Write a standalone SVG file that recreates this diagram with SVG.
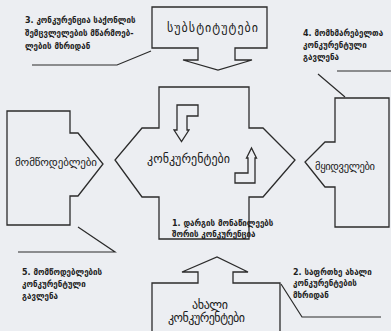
<svg xmlns="http://www.w3.org/2000/svg" width="391" height="331" viewBox="0 0 391 331">
<style>
.shape{fill:none;stroke:#2b2b2b;stroke-width:1.3;stroke-linejoin:miter}
.lead{fill:none;stroke:#2b2b2b;stroke-width:1.2}
.box{font-family:"DejaVu Sans",sans-serif;font-size:12px;fill:#1a1a1a;text-anchor:middle}
.note{font-family:"DejaVu Sans",sans-serif;font-size:8px;font-weight:bold;fill:#1e1e1e}
</style>
<rect width="391" height="331" fill="#eceef2"/>
<g id="connectors">
  <path class="lead" d="M32,65 H117 L151,51"/>
  <path class="lead" d="M391,71 H337 M318,74 L345,97"/>
  <path class="lead" d="M18,252 H115 L78,227"/>
  <path class="lead" d="M281,284 L302,317 H381"/>
</g>
<g id="substitutes">
  <path class="shape" d="M152,7 H267 V48 H235 V60 H252 L218,70 L183,60 H198 V48 H152 Z"/>
  <text class="box" x="212.5" y="32" textLength="91">სუბსტიტუტები</text>
</g>
<g id="competitors">
  <path class="shape" d="M159,87 H249 V128 H263 L295,160 L263,197 H249 V239 H159 V197 H142 L115,160 L142,128 H159 Z"/>
  <path class="shape" d="M177,105 H198 V116 H187 V130 H189 L181.5,141.5 L174,130 H177 Z"/>
  <path class="shape" d="M255,158 V183 H235 V173 H248 V158 H246.5 L251.5,148 L256.5,158 Z"/>
  <text class="box" x="188.5" y="163" textLength="83">კონკურენტები</text>
</g>
<g id="suppliers">
  <path class="shape" d="M7,111 H70 V133 H78 L103,164 L78,196 H70 V225 H7 Z"/>
  <text class="box" x="56" y="166" textLength="82" style="font-size:11px">მომწოდებლები</text>
</g>
<g id="buyers">
  <path class="shape" d="M389,98 H335 V142 H325 L305,162 L325,187 H335 V227 H389 Z"/>
  <text class="box" x="345" y="170" textLength="60" style="font-size:10.5px">მყიდველები</text>
</g>
<g id="new-entrants">
  <path class="shape" d="M152,333 V283 H198 V272 H182 L217,257 L248,272 H233 V283 H280 V333"/>
  <text class="box" x="210" y="309" textLength="36">ახალი</text>
  <text class="box" x="206.5" y="322" textLength="77">კონკურენტები</text>
</g>
<g id="labels">
  <text class="note" x="25" y="23">3. კონკურენცია საქონლის</text>
  <text class="note" x="25" y="36">შემცვლელების მწარმოებ-</text>
  <text class="note" x="25" y="49">ლების მხრიდან</text>
  <text class="note" x="303" y="36">4. მომხმარებელთა</text>
  <text class="note" x="303" y="48">კონკურენტული</text>
  <text class="note" x="303" y="60">გავლენა</text>
  <text class="note" x="172" y="226">1. დარგის მონაწილეებს</text>
  <text class="note" x="172" y="237">შორის კონკურენცია</text>
  <text class="note" x="22" y="275">5. მომწოდებლების</text>
  <text class="note" x="22" y="287">კონკურენტული</text>
  <text class="note" x="22" y="299">გავლენა</text>
  <text class="note" x="293" y="275">2. საფრთხე ახალი</text>
  <text class="note" x="293" y="286">კონკურენტების</text>
  <text class="note" x="293" y="298">მხრიდან</text>
</g>
</svg>
